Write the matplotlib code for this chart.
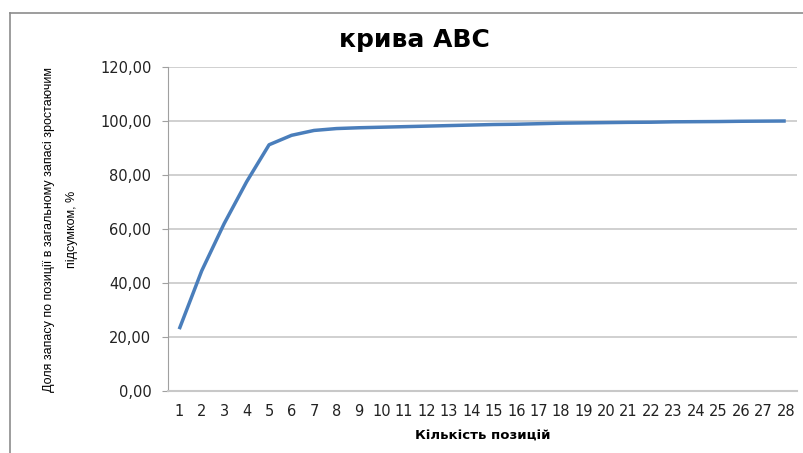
import matplotlib
matplotlib.use("Agg")
import matplotlib.pyplot as plt
from matplotlib.lines import Line2D
from matplotlib.ticker import FuncFormatter

# ABC curve: cumulative share of stock by position
positions = list(range(1, 29))
cum_share = [22.9, 44.5, 62.0, 77.5, 91.2, 94.7, 96.5, 97.2, 97.5, 97.7,
             97.9, 98.1, 98.3, 98.5, 98.7, 98.8, 99.0, 99.2, 99.3, 99.4,
             99.5, 99.55, 99.7, 99.75, 99.8, 99.9, 99.95, 100.0]
y_ticks = [0, 20, 40, 60, 80, 100, 120]

plt.rcParams["font.family"] = ["DejaVu Sans"]

fig = plt.figure(figsize=(8.04, 4.53), dpi=100)
ax = fig.add_axes([168 / 804, 1 - 391 / 453, (797 - 168) / 804, (391 - 67) / 453])

ax.plot(positions, cum_share, color="#4a7ebb", linewidth=2.5, solid_capstyle="butt")

ax.set_xlim(0.5, 28.5)
ax.set_ylim(0, 120)
ax.set_yticks(y_ticks)
ax.yaxis.set_major_formatter(FuncFormatter(lambda v, p: f"{v:.2f}".replace(".", ",")))
ax.set_xticks(positions)
ax.tick_params(axis="x", length=0, labelsize=10.5, pad=9, colors="#222222")
ax.tick_params(axis="y", length=4, color="#a0a0a0", labelsize=10.5, pad=8, colors="#222222")

ax.grid(axis="y", color="#c8c8c8", linewidth=1.2)
ax.set_axisbelow(True)
for side in ["top", "right"]:
    ax.spines[side].set_visible(False)
ax.spines["left"].set_color("#a0a0a0")
ax.spines["bottom"].set_color("#c8c8c8")
ax.spines["bottom"].set_linewidth(1.5)

fig.text(414 / 804, 1 - 40 / 453, "крива АВС", fontsize=18, fontweight="bold",
         ha="center", va="center")
ax.set_xlabel("Кількість позицій", fontsize=9.5, fontweight="bold", labelpad=8)
ax.set_ylabel("Доля запасу по позиції в загальному запасі зростаючим\nпідсумком, %",
              fontsize=9, linespacing=2.2,
              family=["Liberation Sans", "DejaVu Sans"])
ax.yaxis.set_label_coords(-0.143, 0.5)

# chart area border
fig.add_artist(Line2D([10 / 804, 10 / 804], [0, 1 - 13 / 453], color="#8c8c8c", linewidth=1.2))
fig.add_artist(Line2D([10 / 804, 1], [1 - 13 / 453, 1 - 13 / 453], color="#8c8c8c", linewidth=1.2))

fig.savefig("out.png", dpi=100)
